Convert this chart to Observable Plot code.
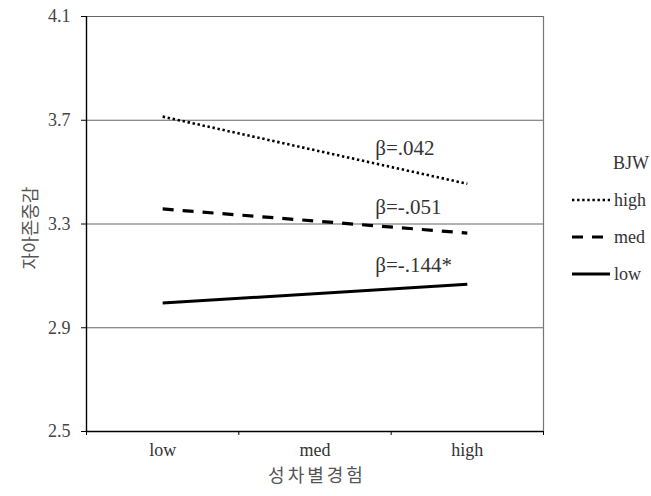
<!DOCTYPE html>
<html>
<head>
<meta charset="utf-8">
<script src="https://cdn.jsdelivr.net/npm/d3@7"></script>
<script src="https://cdn.jsdelivr.net/npm/@observablehq/plot@0.6"></script>
<style>
  html, body { margin: 0; padding: 0; background: #fff; }
  #chart { position: relative; width: 651px; height: 496px; }
  #chart svg text.serif { font-family: "Liberation Serif", serif !important; }
  #chart svg text.kr { font-family: "Noto Sans CJK KR", sans-serif !important; }
</style>
</head>
<body>
<div id="chart"></div>
<script>
// ---- data ----
const categories = ["low", "med", "high"];          // 성차별경험 levels
const series = ["high", "med", "low"];               // BJW levels
const valuesAtLow = [3.714, 3.358, 2.995];           // 자아존중감 at 성차별경험 = low
const valuesAtHigh = [3.455, 3.265, 3.068];          // 자아존중감 at 성차별경험 = high
const betaLabels = ["β=.042", "β=-.051", "β=-.144*"];
const yTicks = [2.5, 2.9, 3.3, 3.7, 4.1];
const yTitle = "자아존중감";
const xTitle = "성차별경험";
const legendTitle = "BJW";

// ---- build table ----
const rows = [];
series.forEach((s, i) => {
  rows.push({series: s, x: categories.indexOf("low") + 0.5, y: valuesAtLow[i]});
  rows.push({series: s, x: categories.indexOf("high") + 0.5, y: valuesAtHigh[i]});
});
const dash = {high: "2.4,2.7", med: "11,9", low: null};
const width = {high: 2.6, med: 3.2, low: 3};
const labelDy = {high: -36, med: -26, low: -19};

const serif = "Liberation Serif";
const korean = "Noto Sans CJK KR";

const lineMarks = series.map(s =>
  Plot.line(rows.filter(r => r.series === s), {
    x: "x", y: "y", stroke: "#000", strokeWidth: width[s],
    strokeDasharray: dash[s], strokeLinecap: "butt"
  })
);
const labelMarks = series.map((s, i) =>
  Plot.text([{x: categories.indexOf("high") + 0.5, y: valuesAtHigh[i], t: betaLabels[i]}], {
    x: "x", y: "y", text: "t", dx: -92, dy: labelDy[s], textAnchor: "start",
    fontSize: 21, fill: "#333", className: "beta"
  })
);

const chart = Plot.plot({
  width: 651,
  height: 496,
  marginLeft: 86,
  marginRight: 108,
  marginTop: 16,
  marginBottom: 65,
  style: {fontFamily: serif, fontSize: "18px", color: "#333", background: "#fff"},
  x: {type: "linear", domain: [0, categories.length], axis: null},
  y: {domain: [yTicks[0], yTicks[yTicks.length - 1]], axis: null},
  marks: [
    Plot.ruleY(yTicks.slice(1), {stroke: "#666", strokeWidth: 1.2}),
    Plot.ruleX([categories.length], {stroke: "#777", strokeWidth: 1.2}),
    Plot.ruleY([yTicks[0]], {stroke: "#000", strokeWidth: 1.4}),
    Plot.ruleX([0], {stroke: "#000", strokeWidth: 1.4}),
    Plot.axisY({ticks: yTicks, tickSize: 5, tickPadding: 11, tickFormat: d3.format(".1f"),
      label: null, stroke: "#000", fill: "#444", fontSize: 18, fontVariant: "normal"}),
    Plot.axisX({ticks: d3.range(categories.length + 1), tickSize: 4, tickFormat: () => "",
      label: null, stroke: "#000"}),
    Plot.text(categories, {x: (d, i) => i + 0.5, y: yTicks[0], text: d => d, dy: 19,
      fontSize: 18, fill: "#333"}),
    ...lineMarks,
    ...labelMarks
  ]
});
document.getElementById("chart").appendChild(chart);

const svg = d3.select(chart);
svg.selectAll("text").classed("serif", true);

// ---- axis titles ----
svg.append("text").attr("class", "kr")
  .attr("transform", "translate(31,228) rotate(-90)")
  .attr("text-anchor", "middle").attr("dy", "0.35em")
  .attr("font-size", 18).attr("fill", "#555").text(yTitle);
svg.append("text").attr("class", "kr")
  .attr("x", 317).attr("y", 476)
  .attr("text-anchor", "middle").attr("dy", "0.35em")
  .attr("font-size", 18).attr("letter-spacing", "3px").attr("fill", "#555").text(xTitle);

// ---- legend ----
const lg = svg.append("g").attr("font-size", 18).attr("fill", "#333").attr("text-anchor", "start");
lg.append("text").attr("class", "serif").attr("x", 613).attr("y", 163).attr("dy", "0.35em").text(legendTitle);
series.forEach((s, i) => {
  const yy = 200 + i * 37;
  lg.append("line").attr("x1", 572).attr("x2", 610).attr("y1", yy).attr("y2", yy)
    .attr("stroke", "#000").attr("stroke-width", width[s])
    .attr("stroke-dasharray", dash[s]);
  lg.append("text").attr("class", "serif").attr("x", 614).attr("y", yy).attr("dy", "0.35em").text(s);
});
</script>
</body>
</html>
